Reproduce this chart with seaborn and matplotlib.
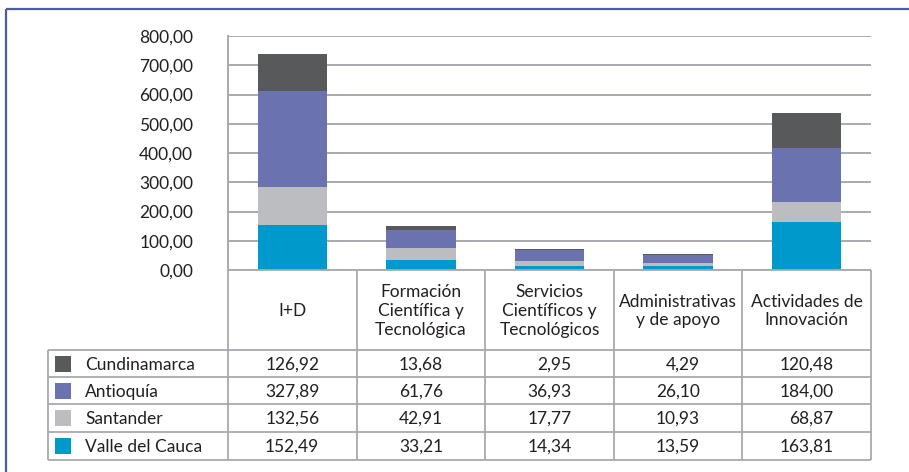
import matplotlib
matplotlib.use("Agg")
import matplotlib.pyplot as plt
import seaborn as sns
import pandas as pd
from matplotlib.patches import Rectangle
from matplotlib.lines import Line2D
from matplotlib.ticker import FuncFormatter

# Expenditure by activity type and department
categories = [
    "I+D",
    "Formación\nCientífica y\nTecnológica",
    "Servicios\nCientíficos y\nTecnológicos",
    "Administrativas\ny de apoyo",
    "Actividades de\nInnovación",
]
regions = ["Cundinamarca", "Antioquía", "Santander", "Valle del Cauca"]
cundinamarca = [126.92, 13.68, 2.95, 4.29, 120.48]
antioquia = [327.89, 61.76, 36.93, 26.10, 184.00]
santander = [132.56, 42.91, 17.77, 10.93, 68.87]
valle_del_cauca = [152.49, 33.21, 14.34, 13.59, 163.81]
y_ticks = [0, 100, 200, 300, 400, 500, 600, 700, 800]

series = {
    "Cundinamarca": cundinamarca,
    "Antioquía": antioquia,
    "Santander": santander,
    "Valle del Cauca": valle_del_cauca,
}
colors = {
    "Cundinamarca": "#58595B",
    "Antioquía": "#6A73B0",
    "Santander": "#BCBDC0",
    "Valle del Cauca": "#0099CC",
}

TEXT = "#231F20"
RULE = "#A7A9AC"
FRAME = "#4B5BA6"
FS = 12.5

sns.set_style("white")
plt.rcParams["font.family"] = ["Lato", "DejaVu Sans"]

W, H = 909, 472
fig = plt.figure(figsize=(W / 100, H / 100), dpi=100)


def fx(px):
    return px / W


def fy(py):
    return 1 - py / H


# ---- stacked bars -------------------------------------------------------
ax = fig.add_axes([fx(228), fy(270), fx(871) - fx(228), fy(36) - fy(270)])

stack_order = ["Valle del Cauca", "Santander", "Antioquía", "Cundinamarca"]
running = [0.0] * len(categories)
tops = {}
for reg in stack_order:
    running = [r + v for r, v in zip(running, series[reg])]
    tops[reg] = list(running)

# draw the tallest cumulative layer first so lower segments sit on top of it
for z, reg in enumerate(reversed(stack_order)):
    df = pd.DataFrame({"categoria": categories, "acumulado": tops[reg]})
    sns.barplot(
        data=df, x="categoria", y="acumulado", order=categories,
        color=colors[reg], saturation=1, width=0.54, linewidth=0,
        edgecolor="none", ax=ax, zorder=2 + z,
    )

ax.set_ylim(0, 800)
ax.set_yticks(y_ticks)
ax.yaxis.set_major_formatter(FuncFormatter(lambda v, _: f"{v:.2f}".replace(".", ",")))
ax.yaxis.grid(True, color=RULE, lw=1.4)
ax.set_axisbelow(True)
ax.tick_params(axis="y", length=0, pad=25, labelsize=FS, labelcolor=TEXT)
ax.tick_params(axis="x", length=0, labelbottom=False)
ax.set_xlabel("")
ax.set_ylabel("")
for side in ("top", "right", "bottom"):
    ax.spines[side].set_visible(False)
ax.spines["left"].set_color(RULE)
ax.spines["left"].set_linewidth(1.4)

# ---- data table beneath the bars ---------------------------------------
tab = fig.add_axes([0, 0, 1, 1], zorder=5)
tab.set_xlim(0, W)
tab.set_ylim(H, 0)
tab.axis("off")
tab.patch.set_alpha(0)

edges = [ax.transData.transform((i - 0.5, 0))[0] for i in range(len(categories) + 1)]
centers = [(a + b) / 2 for a, b in zip(edges[:-1], edges[1:])]
legend_left = 48
header_top, header_bottom = 270, 350
row_edges = [350, 377, 404, 432, 460]


def hline(y, x0, x1):
    tab.add_line(Line2D([x0, x1], [y, y], color=RULE, lw=1.3, solid_capstyle="butt"))


def vline(x, y0, y1):
    tab.add_line(Line2D([x, x], [y0, y1], color=RULE, lw=1.3, solid_capstyle="butt"))


hline(header_top, edges[0], edges[-1])
for y in row_edges:
    hline(y, legend_left, edges[-1])
for x in edges:
    vline(x, header_top, row_edges[-1])
vline(legend_left, row_edges[0], row_edges[-1])

for cx, cat in zip(centers, categories):
    tab.text(cx, (header_top + header_bottom) / 2 + 1, cat, ha="center", va="center",
             fontsize=FS, color=TEXT, linespacing=1.2)

renderer = fig.canvas.get_renderer()
row_centers = [(a + b) / 2 for a, b in zip(row_edges[:-1], row_edges[1:])]
for yc, reg in zip(row_centers, regions):
    tab.add_patch(Rectangle((55, yc - 8), 16, 16, facecolor=colors[reg], edgecolor="none"))
    tab.text(85, yc + 1, reg, ha="left", va="center", fontsize=FS, color=TEXT)

for j, cx in enumerate(centers):
    labels = [f"{series[reg][j]:.2f}".replace(".", ",") for reg in regions]
    widest = max(labels, key=len)
    probe = tab.text(cx, 0, widest, ha="center", fontsize=FS)
    right = probe.get_window_extent(renderer).x1
    probe.remove()
    for yc, lab in zip(row_centers, labels):
        tab.text(right, yc + 1, lab, ha="right", va="center", fontsize=FS, color=TEXT)

# outer frame
tab.add_patch(Rectangle((6, 9), 1000, 1000, facecolor="none", edgecolor=FRAME, lw=1.6))

fig.savefig("out.png", dpi=100)
